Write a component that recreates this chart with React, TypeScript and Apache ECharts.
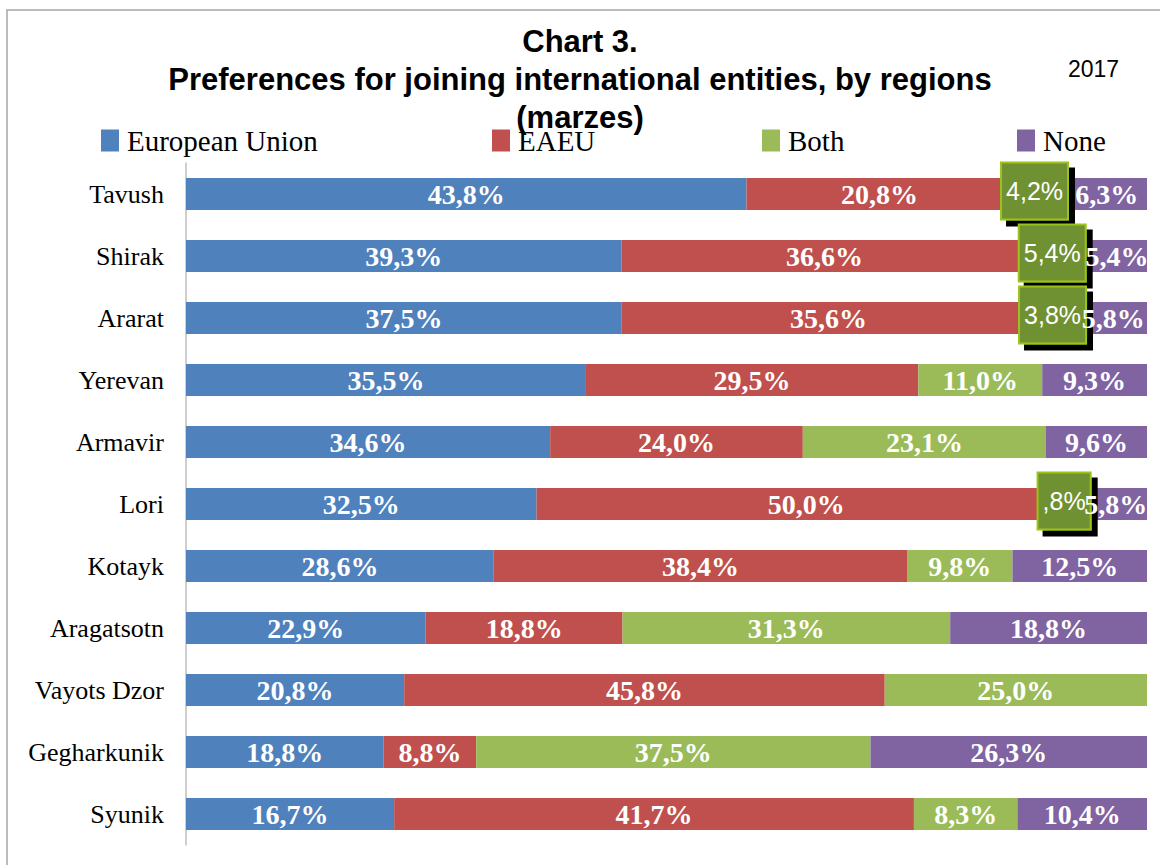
import React, { useEffect, useRef } from "react";
import * as echarts from "echarts";

const categories = ["Tavush", "Shirak", "Ararat", "Yerevan", "Armavir", "Lori", "Kotayk", "Aragatsotn", "Vayots Dzor", "Gegharkunik", "Syunik"];
const seriesNames = ["European Union", "EAEU", "Both", "None"];
const europeanUnion = [43.8, 39.3, 37.5, 35.5, 34.6, 32.5, 28.6, 22.9, 20.8, 18.8, 16.7];
const eaeu = [20.8, 36.6, 35.6, 29.5, 24.0, 50.0, 38.4, 18.8, 45.8, 8.8, 41.7];
const both = [4.2, 5.4, 3.8, 11.0, 23.1, 0.8, 9.8, 31.3, 25.0, 37.5, 8.3];
const none = [6.3, 5.4, 5.8, 9.3, 9.6, 5.8, 12.5, 18.8, 0, 26.3, 10.4];
const colors = ["#4F81BD", "#C0504D", "#9BBB59", "#8064A2"];
const boxedBoth = ["Tavush", "Shirak", "Ararat", "Lori"];

const fmt = (v: number) => v.toFixed(1).replace(".", ",") + "%";

export default function App() {
  const ref = useRef<HTMLDivElement>(null);
  useEffect(() => {
    if (!ref.current) return;
    const chart = echarts.init(ref.current, null, { renderer: "svg" });
    const all = [europeanUnion, eaeu, both, none];
    const totals = categories.map((_, i) => all.reduce((s, arr) => s + arr[i], 0));

    const series = all.map((arr, si) => ({
      name: seriesNames[si],
      type: "bar",
      stack: "total",
      barWidth: 32,
      itemStyle: { color: colors[si] },
      label: {
        show: true,
        position: "inside",
        color: "#fff",
        fontFamily: "Liberation Serif",
        fontWeight: "bold",
        fontSize: 28,
        formatter: (p: any) => (p.data.raw ? fmt(p.data.raw) : ""),
      },
      data: arr.map((v, i) => {
        const item: any = { value: (v / totals[i]) * 100, raw: v };
        if (si === 2 && boxedBoth.includes(categories[i])) {
          const isLori = categories[i] === "Lori";
          item.label = {
            show: true,
            position: "inside",
            offset: isLori ? [-16, -3] : [-5, -3],
            color: "#fff",
            fontFamily: "Liberation Sans",
            fontWeight: "normal",
            fontSize: 25,
            lineHeight: 29,
            backgroundColor: "#6F9132",
            borderColor: "#9BC31B",
            borderWidth: 2,
            padding: [13, 4, 13, 4],
            shadowColor: "#000",
            shadowOffsetX: 6,
            shadowOffsetY: 6,
            shadowBlur: 0,
            formatter: (p: any) => fmt(p.data.raw).replace(/^0/, ""),
          };
        }
        return item;
      }),
    }));

    const legendLefts = [96, 487, 757, 1012];
    const legends = seriesNames.map((n, i) => ({
      data: [n],
      left: legendLefts[i],
      top: 121,
      itemWidth: 18,
      itemHeight: 22,
      icon: "rect",
      selectedMode: false,
      textStyle: { fontFamily: "Liberation Serif", fontSize: 29, color: "#000", padding: [0, 0, 0, 3] },
    }));

    chart.setOption({
      animation: false,
      backgroundColor: "#fff",
      title: {
        text: "Chart 3.\nPreferences for joining international entities, by regions\n(marzes)",
        left: "center",
        top: 17,
        textStyle: { fontFamily: "Liberation Sans", fontWeight: "bold", fontSize: 31, lineHeight: 38, color: "#000" },
      },
      legend: legends,
      graphic: [
        {
          type: "rect",
          shape: { x: 7, y: 10, width: 1200, height: 900 },
          style: { fill: "none", stroke: "#a6a6a6", lineWidth: 1.5 },
          silent: true,
        },
        {
          type: "text",
          left: 1068,
          top: 57,
          style: { text: "2017", fontFamily: "Liberation Sans", fontSize: 23, fill: "#000" },
        },
      ],
      grid: { left: 186, right: 13, top: 163, bottom: 20, containLabel: false },
      xAxis: { type: "value", min: 0, max: 100, show: false },
      yAxis: {
        type: "category",
        data: categories,
        inverse: true,
        axisLine: { show: true, lineStyle: { color: "#bfbfbf", width: 1.5 } },
        axisTick: { show: false },
        axisLabel: { fontFamily: "Liberation Serif", fontSize: 26, color: "#000", margin: 22 },
      },
      series,
    });
    return () => chart.dispose();
  }, []);
  return <div ref={ref} style={{ position: "absolute", left: 0, top: 0, width: 1160, height: 865 }} />;
}
